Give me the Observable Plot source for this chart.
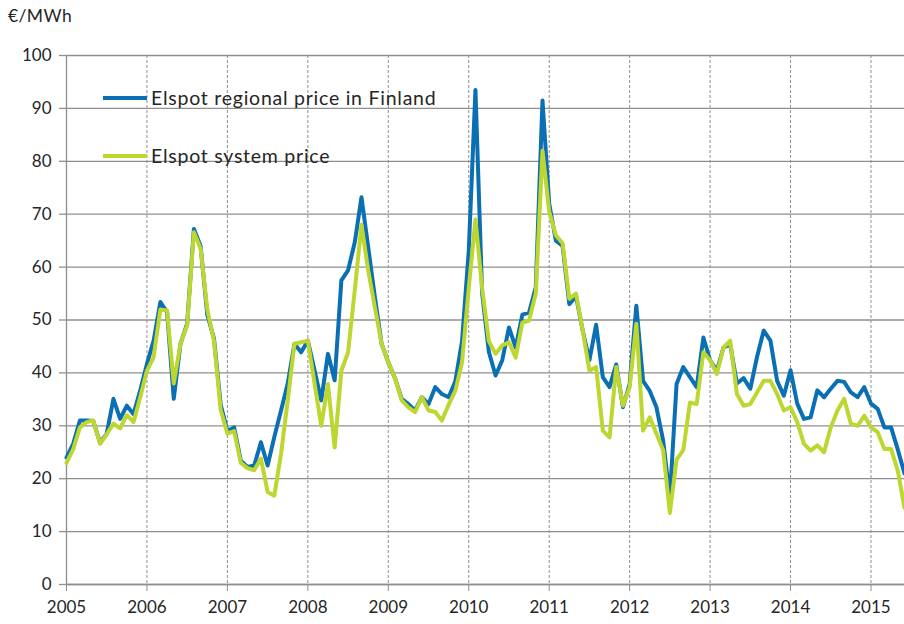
<!DOCTYPE html>
<html><head><meta charset="utf-8">
<script src="https://cdn.jsdelivr.net/npm/d3@7"></script>
<script src="https://cdn.jsdelivr.net/npm/@observablehq/plot@0.6"></script>
<style>
body{margin:0;background:#fff;}
#wrap{position:relative;width:904px;height:624px;font-family:Lato,"Open Sans",sans-serif;color:#262626;background:#fff;}
#unit{position:absolute;left:8px;top:5px;font-size:17.5px;letter-spacing:0.4px;z-index:2;}
.leg{position:absolute;left:103px;display:flex;align-items:center;font-size:19.5px;letter-spacing:0.75px;white-space:nowrap;z-index:2;}
.leg span.sw{display:inline-block;width:44px;height:4px;margin-right:4px;}
</style></head><body>
<div id="wrap"></div>
<script>
const startYear = 2005;
const finland = [
 24, 26.6, 31, 31, 30.9, 26.8, 28.5, 35.1, 31.3, 33.8, 32.2, 36.7,
 41.7, 46.1, 53.4, 51.5, 35.1, 45.5, 49.3, 67.2, 64, 51, 46.5, 34,
 29, 29.7, 23.4, 22.2, 22.5, 26.9, 22.5, 27.9, 32.9, 38, 45.5, 43.9,
 46.1, 40.5, 34.8, 43.6, 38.6, 57.5, 59.4, 64.7, 73.2, 63.8, 54.3, 45.5,
 42, 39, 35.1, 34.1, 32.9, 35.4, 34.1, 37.3, 36, 35.4, 38.4, 46,
 63, 93.5, 55, 44, 39.5, 42.4, 48.6, 44.8, 51, 51.4, 56.2, 91.5,
 72, 65, 64, 53, 54.5, 48, 42.4, 49.1, 39.2, 37.3, 41.6, 33.5,
 37.9, 52.7, 38.5, 36.6, 33.5, 27.2, 16.5, 37.9, 41.1, 39.2, 37.3, 46.7,
 42.4, 40.4, 44.8, 45.4, 38, 39, 37, 43, 48, 46.1, 38.5, 35.7,
 40.5, 34.2, 31.3, 31.6, 36.7, 35.4, 37, 38.5, 38.3, 36.3, 35.4, 37.3,
 34.2, 33.2, 29.7, 29.7, 25.5, 21
];
const system = [
 23, 25.6, 29.7, 30.7, 31, 26.6, 28.4, 30.4, 29.5, 32, 30.7, 35.4,
 40.4, 43, 52, 51.8, 38, 45.5, 49, 66.6, 63.5, 52, 46, 33,
 28.5, 29, 23, 22, 21.6, 23.8, 17.5, 16.8, 24.7, 34.8, 45.5, 45.8,
 46.1, 38, 30, 37.9, 25.9, 40.4, 43.9, 55.6, 68, 59.4, 52.4, 45.5,
 42, 39, 34.8, 33.5, 32.6, 35.4, 32.9, 32.6, 31, 34, 36.6, 42,
 56, 69, 56, 46, 43.6, 45.2, 45.8, 42.9, 49.5, 49.9, 55, 82,
 70.5, 66, 64.5, 54, 55, 48, 40.4, 41.1, 29.1, 27.8, 41.1, 33.8,
 37.3, 49.3, 29.1, 31.6, 28.5, 25.4, 13.5, 23.6, 25.4, 34.4, 34.1, 43.9,
 42.4, 39.8, 44.8, 46.1, 36, 33.8, 34.1, 36.3, 38.5, 38.5, 36, 32.9,
 33.5, 30.7, 26.6, 25.3, 26.3, 25, 29.7, 32.9, 35.1, 30.4, 30, 31.9,
 29.7, 28.8, 25.6, 25.6, 21.5, 14.5
];
const yTicks = [0, 10, 20, 30, 40, 50, 60, 70, 80, 90, 100];
const xTicks = [2005, 2006, 2007, 2008, 2009, 2010, 2011, 2012, 2013, 2014, 2015];
const seriesNames = ["Elspot regional price in Finland", "Elspot system price"];
const seriesColors = ["#0b70b3", "#bdd630"];
const unitLabel = "€/MWh";

const rows = [];
finland.forEach((v, i) => rows.push({t: startYear + i / 12, v, s: seriesNames[0]}));
system.forEach((v, i) => rows.push({t: startYear + i / 12, v, s: seriesNames[1]}));

const gridColor = "#8f8f8f";
const plot = Plot.plot({
  width: 904, height: 624,
  marginLeft: 66, marginRight: 0, marginTop: 55, marginBottom: 40,
  style: {fontFamily: "Lato, 'Open Sans', sans-serif", fontSize: "17px", color: "#262626", background: "transparent"},
  x: {type: "linear", domain: [startYear, startYear + (finland.length - 1) / 12], label: null},
  y: {domain: [0, 100], label: null},
  color: {domain: seriesNames, range: seriesColors},
  marks: [
    Plot.gridY(yTicks, {stroke: gridColor, strokeOpacity: 1, strokeWidth: 1.3}),
    Plot.gridX(xTicks.slice(1), {stroke: gridColor, strokeOpacity: 1, strokeWidth: 1, strokeDasharray: "3,2"}),
    Plot.axisY(yTicks, {tickSize: 7, tickPadding: 8, stroke: gridColor, strokeWidth: 1.3, label: null}),
    Plot.axisX(xTicks, {tickSize: 7, tickPadding: 9, stroke: gridColor, tickFormat: d => String(d), label: null}),
    Plot.ruleX([startYear], {stroke: gridColor, strokeWidth: 1.3}),
    Plot.ruleY([0], {stroke: gridColor, strokeWidth: 1.5}),
    Plot.lineY(rows, {x: "t", y: "v", z: "s", stroke: "s", strokeWidth: 4, strokeLinejoin: "round"})
  ]
});
const wrap = document.getElementById("wrap");
wrap.appendChild(plot);
plot.style.position = "absolute"; plot.style.left = "0"; plot.style.top = "0";

const unit = document.createElement("div");
unit.id = "unit";
unit.textContent = unitLabel;
wrap.appendChild(unit);

const legTops = [86, 144];
seriesNames.forEach((name, k) => {
  const d = document.createElement("div");
  d.className = "leg";
  d.style.top = legTops[k] + "px";
  d.innerHTML = `<span class="sw" style="background:${seriesColors[k]}"></span><span>${name}</span>`;
  wrap.appendChild(d);
});
</script>
</body></html>
